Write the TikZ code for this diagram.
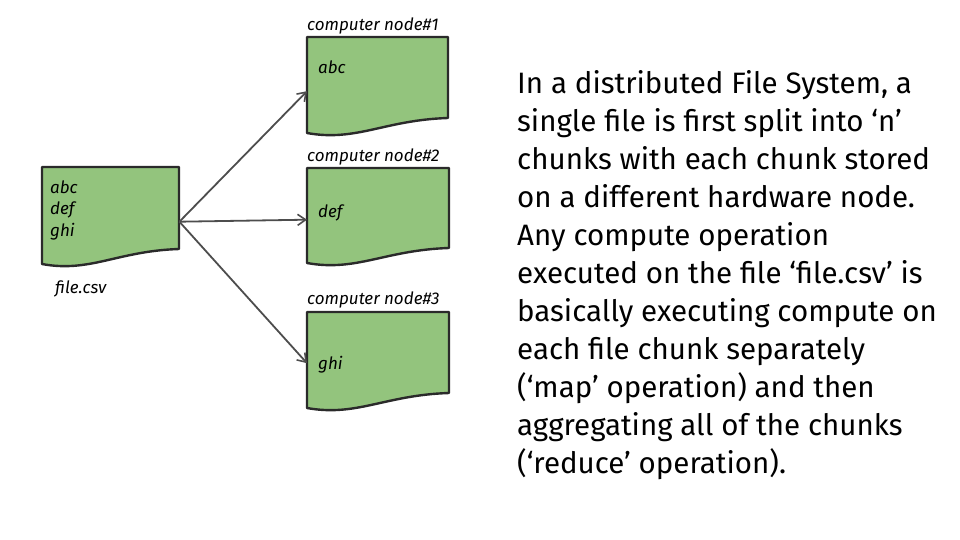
\documentclass[tikz,border=0pt]{standalone}
\usepackage{fontspec}
\setmainfont{Fira Sans}
\usetikzlibrary{arrows.meta}
\definecolor{docgreen}{HTML}{93C47D}
\definecolor{docline}{HTML}{2A2A2A}
\definecolor{arrowgray}{HTML}{4D4D4D}
\newcommand\docpath[5]{% name, x, y, w, h
  \node[inner sep=0, minimum width=#4pt, minimum height=#5pt, anchor=north west] (#1) at (#2,#3) {};
  \draw[docshape] (#2,#3) -- ({#2+#4},#3) -- ({#2+#4},{#3+#5-15})
    .. controls ({#2+0.55*#4},{#3+#5-13}) and ({#2+0.35*#4},{#3+#5+9}) .. ({#2},{#3+#5}) -- cycle;}
\begin{document}
\begin{tikzpicture}[x=1pt,y=-1pt,
  docshape/.style={fill=docgreen, draw=docline, line width=2.4pt, line join=round},
  conn/.style={draw=arrowgray, line width=1.8pt, -{Straight Barb[length=8pt,width=11pt,line width=1.6pt]}},
  label/.style={font=\itshape\fontsize{17}{20}\selectfont, anchor=base west, inner sep=0},
  intext/.style={font=\itshape\fontsize{17}{21.5}\selectfont, anchor=base west, inner sep=0, align=left},
  para/.style={font=\fontsize{29.5}{38}\selectfont, anchor=base west, inner sep=0, align=left}]
\useasboundingbox (0,0) rectangle (960,540);
\docpath{file}{42}{167}{137}{97}
\docpath{n1}{307}{37}{141}{96}
\docpath{n2}{307}{168}{142}{95}
\docpath{n3}{307}{312}{142}{96}
\node[intext] (filetxt) at (50,236) {abc\\def\\ghi};
\node[label] (filelbl) at (55,293) {file.csv};
\node[label] (l1) at (307,31) {computer node\#1};
\node[label] (l2) at (307,161) {computer node\#2};
\node[label] (l3) at (307,304) {computer node\#3};
\node[intext] (t1) at (318,74) {abc};
\node[intext] (t2) at (318,217) {def};
\node[intext] (t3) at (318,369) {ghi};
\coordinate (src) at ([yshift=-6pt]file.east);
\draw[conn] (src) -- ([yshift=-6pt]n1.west);
\draw[conn] (src) -- ([yshift=-4pt]n2.west);
\draw[conn] (src) -- ([yshift=-3pt]n3.west);
\node[para] (para) at (517,473) {In a distributed File System, a\\
single file is first split into ‘n’\\
chunks with each chunk stored\\
on a different hardware node.\\
Any compute operation\\
executed on the file ‘file.csv’ is\\
basically executing compute on\\
each file chunk separately\\
(‘map’ operation) and then\\
aggregating all of the chunks\\
(‘reduce’ operation).};
\end{tikzpicture}
\end{document}
